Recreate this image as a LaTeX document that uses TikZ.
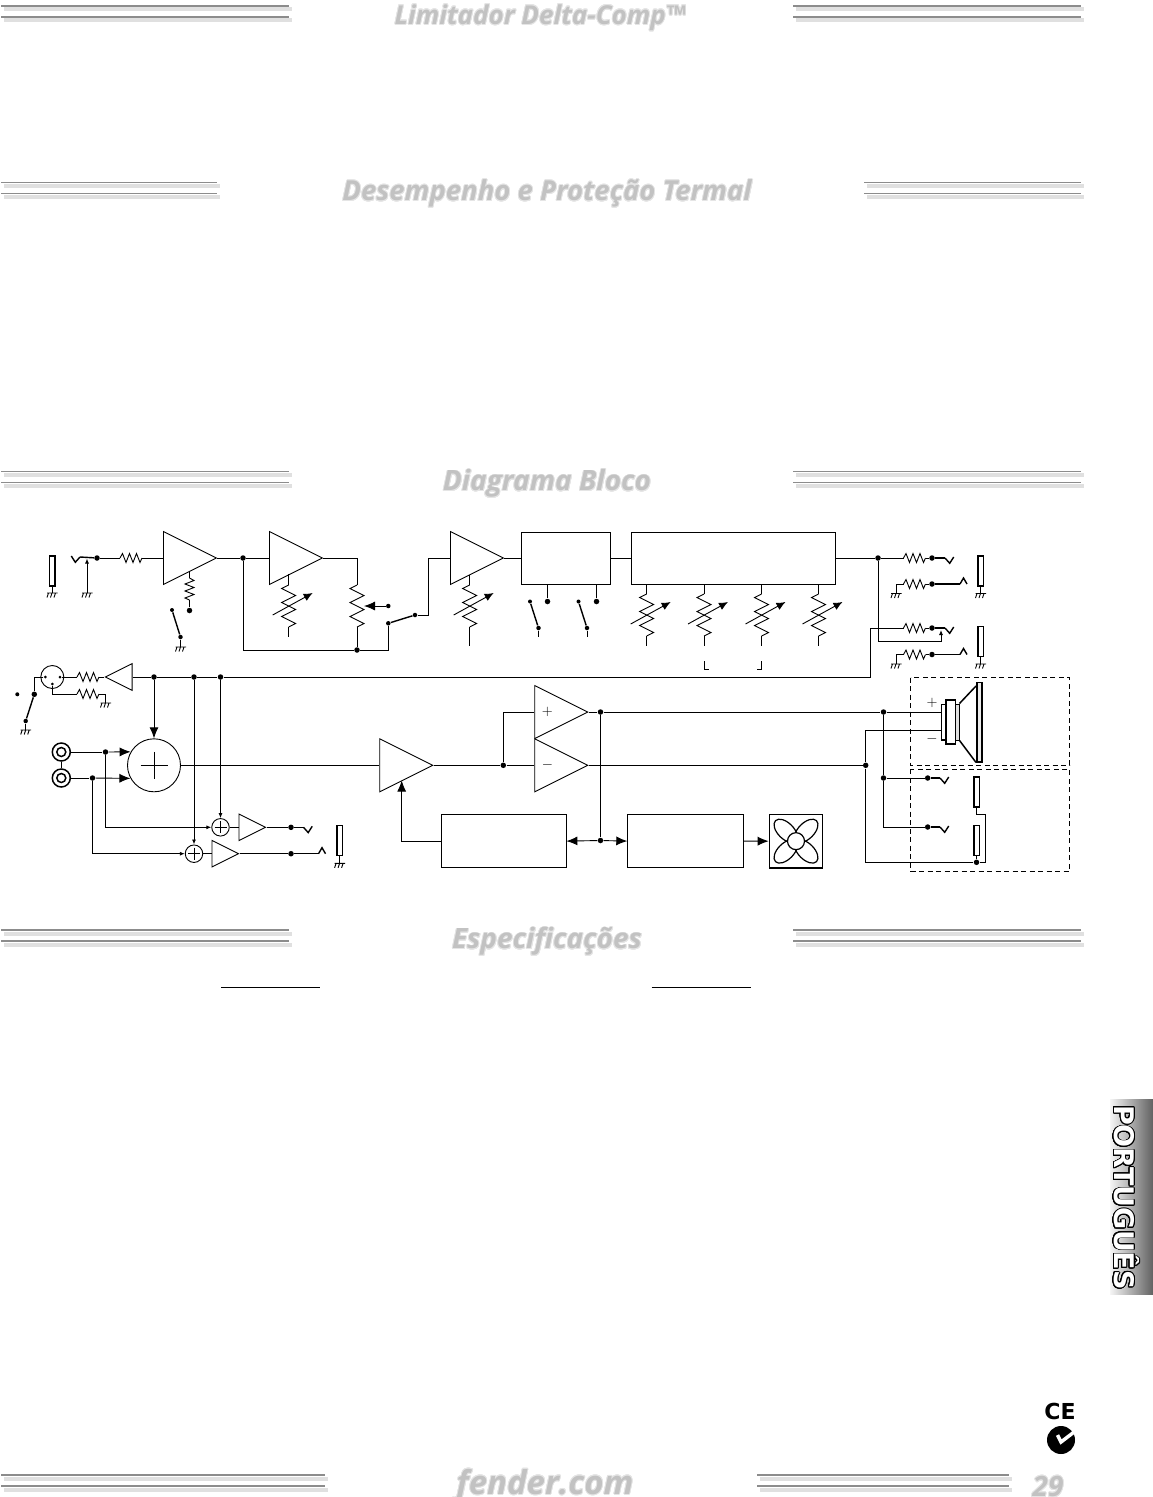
\documentclass[tikz,border=0pt]{standalone}
\usepackage{fontspec}
\setmainfont{Open Sans}
\newfontfamily\tabfont{DejaVu Sans}
\usepackage[copies]{contour}
\contournumber{24}
\usetikzlibrary{arrows.meta,positioning,shapes.geometric}

\tikzset{
    % building blocks of the schematic
    hres/.pic={
        \draw (0,0) coordinate (-l) -- (2.5,-4.5) -- (6,4.5) -- (9.5,-4.5) -- (13,4.5)
            -- (16.5,-4.5) -- (20,4.5) -- (22,0) coordinate (-r);
    },
    vres/.pic={
        \draw (0,0) coordinate (-t) -- (-7,3.5) -- (7,10.5) -- (-7,17.5) -- (7,24.5)
            -- (-7,31.5) -- (7,38.5) -- (0,42) coordinate (-b);
    },
    vpot/.pic={
        \draw (0,0) coordinate (-t) -- (-7,3.5) -- (7,10.5) -- (-7,17.5) -- (7,24.5)
            -- (-7,31.5) -- (7,38.5) -- (0,42) coordinate (-b);
        \draw[-{Latex[length=9pt,width=8pt]}] (-16,30) -- (24,8);
    },
    gnd/.pic={
        \coordinate (-t) at (0,0);
        \draw (-5,0) -- (5.5,0) (-3.5,0) -- (-5,4.5) (0,0) -- (-1.5,4.5) (3.5,0) -- (2,4.5);
    },
    tipv/.pic={\draw[contact] (0,0) coordinate (-a) -- (4.7,5.3) -- (8.7,-1);},
    tipn/.pic={\draw[contact] (0,0) coordinate (-a) -- (3.5,-6) -- (7,0);}
}

\begin{document}
\begin{tikzpicture}[
        x=1pt, y=-1pt, line width=0.9pt,
        ampl/.style={isosceles triangle, isosceles triangle apex angle=53.13, draw, inner sep=0pt, minimum height=53pt},
        amps/.style={isosceles triangle, isosceles triangle apex angle=53.13, draw, inner sep=0pt, minimum height=26.6pt},
        block/.style={rectangle, draw, inner sep=0pt, anchor=north west},
        dotnode/.style={circle, fill=black, inner sep=0pt, minimum size=5.5pt},
        pinnode/.style={circle, fill=black, inner sep=0pt, minimum size=3pt},
        barnode/.style={rectangle, draw, line width=1.5pt, fill=white, inner sep=0pt, minimum width=5.5pt, minimum height=30pt},
        sumnode/.style 2 args={circle, draw, inner sep=0pt, minimum size=#1, path picture={
            \draw (path picture bounding box.center) ++(-#2,0) -- ++({2*#2},0)
                (path picture bounding box.center) ++(0,-#2) -- ++(0,{2*#2});}},
        rcaouter/.style={circle, draw, line width=1.5pt, inner sep=0pt, minimum size=18pt},
        rcainner/.style={circle, draw, line width=1.5pt, inner sep=0pt, minimum size=9pt},
        signtext/.style={font=\fontsize{15}{15}\selectfont, inner sep=0pt},
        contact/.style={line width=1.4pt},
        bigarrow/.style={-{Latex[length=11pt,width=9pt]}},
        tinyarrow/.style={-{Latex[length=5pt,width=4pt]}},
        framebox/.style={dashed, dash pattern=on 5pt off 3.5pt, line width=0.8pt},
        headtext/.style={text=black!24, font=\fontsize{#1}{#1}\selectfont\bfseries\itshape, inner sep=0pt},
        rulemain/.style={line width=1.8pt, black!45},
        ruleshade/.style={line width=4pt, black!12}
    ]
    \useasboundingbox (0,0) rectangle (1153,1497);

    % Page rules
    \foreach \xa/\xb/\ya in {1/289/5.7, 793/1081/5.7, 1/217/182.5, 864/1081/182.5, 1/289/471.5, 793/1081/471.5,
            1/289/930, 793/1081/930, 1/325/1475, 757/1009/1475} {
        \draw[ruleshade] (\xa+3,\ya+3.5) -- (\xb+3,\ya+3.5);
        \draw[ruleshade] (\xa+3,\ya+14.5) -- (\xb+3,\ya+14.5);
        \draw[rulemain] (\xa,\ya) -- (\xb,\ya);
        \draw[rulemain] (\xa,\ya+11) -- (\xb,\ya+11);
    }

    % Page titles
    \contourlength{0.8pt}
    \node[headtext=26] (titlelimit) at (540,18) {\contour{black!10}{Limitador Delta-Comp™}};
    \node[headtext=27.5] (titleheat) at (547,194) {\contour{black!10}{Desempenho e Proteção Termal}};
    \node[headtext=28] (titleblock) at (547,484) {\contour{black!10}{Diagrama Bloco}};
    \node[headtext=28] (titlespec) at (547,942) {\contour{black!10}{Especificações}};
    \node[headtext=33] (titleweb) at (545,1486) {\contour{black!10}{fender.com}};
    \node[headtext=28] (pagenum) at (1048,1487) {\contour{black!10}{29}};
    \draw (221,987) -- (320,987) (651.5,987) -- (750.5,987);

    % Language tab and marks
    \shade[left color=black!4, right color=black!62] (1110,1099) rectangle (1153,1294);
    \contourlength{0.9pt}
    \node[rotate=-90, text=white, inner sep=0pt, font=\tabfont\fontsize{27}{27}\selectfont\bfseries] (tablabel) at (1126,1197.5) {\contour{black}{PORTUGUÊS}};
    \node[inner sep=0pt, font=\tabfont\fontsize{22}{22}\selectfont\bfseries] (cemark) at (1060,1411) {CE};
    \fill (1061,1440) circle (14);
    \draw[white, line width=3.5pt] (1057.5,1435) -- (1061,1442) -- (1078,1429);

    % Input section
    \node[barnode] (barin) at (52,571) {};
    \pic (gndbarin) at (52,593) {gnd};
    \draw (barin) -- (gndbarin-t);
    \node[dotnode] (dotjack) at (97,558) {};
    \pic[xscale=-1] (tipin) at (80,557) {tipv};
    \draw[contact] (tipin-a) -- (dotjack);
    \pic (gndjack) at (87,593) {gnd};
    \coordinate (sensejack) at (87,558.5);
    \draw[tinyarrow] (gndjack-t) -- (sensejack);
    \pic (resin) at (120,558) {hres};
    \node[ampl, anchor=west] (ampinput) at (163,558) {};
    \draw (dotjack) -- (resin-l) (resin-r) -- (ampinput.west);
    \pic[rotate=-90] (respad) at (189.5,578) {hres};
    \coordinate (tailpad) at (189.5,571);
    \node[dotnode] (dotpad) at (189.5,610.5) {};
    \draw (tailpad) -- (respad-l) (respad-r) -- (dotpad);
    \node[pinnode, minimum size=4pt] (swpada) at (172,610) {};
    \node[dotnode, minimum size=4.5pt] (swpadb) at (180.5,637) {};
    \draw[contact] (swpada) -- (swpadb);
    \pic (gndpad) at (180.5,647) {gnd};
    \draw (swpadb) -- (gndpad-t);

    % Preamp and volume
    \node[dotnode] (dotpre) at (243,558) {};
    \node[ampl, anchor=west] (amppre) at (269,558) {};
    \draw (ampinput.apex) -- (dotpre) -- (amppre.west);
    \coordinate (tailgain) at (288.7,574);
    \pic (potgain) at (288.7,585) {vpot};
    \coordinate (endgain) at (288.7,637);
    \draw (tailgain) -- (potgain-t) (potgain-b) -- (endgain);
    \pic (potvol) at (357,585) {vres};
    \node[dotnode] (dotvol) at (357,650) {};
    \draw (amppre.apex) -| (potvol-t) (potvol-b) -- (dotvol);
    \node[dotnode, minimum size=4.5pt] (swvolb) at (388.3,623.3) {};
    \node[dotnode, minimum size=4.5pt] (swvolc) at (388.3,606) {};
    \node[dotnode, minimum size=4.5pt] (swvolo) at (415,615) {};
    \coordinate (wipervol) at (364,606);
    \draw[bigarrow] (swvolc) -- (wipervol);
    \draw (dotpre) |- (dotvol) -| (swvolb);
    \draw[contact] (swvolb) -- (swvolo);

    % Tone stages and effects
    \node[ampl, anchor=west] (ampfx) at (450,558) {};
    \draw (swvolo) -- (428,615) |- (ampfx.west);
    \coordinate (tailfx) at (469.7,575);
    \pic (potfx) at (469.7,585) {vpot};
    \coordinate (endfx) at (469.7,646);
    \draw (tailfx) -- (potfx-t) (potfx-b) -- (endfx);
    \node[block, minimum width=88.5pt, minimum height=52.5pt] (boxfx) at (521,531.5) {};
    \node[block, minimum width=203.5pt, minimum height=52.5pt] (boxeq) at (631,531.5) {};
    \draw (ampfx.apex) -- (boxfx.west |- ampfx.apex) (boxfx.east |- ampfx.apex) -- (boxeq.west |- ampfx.apex);
    \foreach \n/\xa/\xb in {a/530/547.5, b/578.5/596.5} {
        \node[dotnode] (stub\n) at (\xb,601.5) {};
        \draw (boxfx.south -| stub\n) -- (stub\n);
        \node[pinnode, minimum size=4pt] (sw\n) at (\xa,601.5) {};
        \node[dotnode, minimum size=4.5pt] (sw\n low) at (\xa+8.5,628) {};
        \coordinate (sw\n end) at (\xa+8.5,637);
        \draw[contact] (sw\n) -- (sw\n low);
        \draw (sw\n low) -- (sw\n end);
    }
    \foreach \n/\x in {a/646.7, b/704, c/761.5, d/818.5} {
        \pic (poteq\n) at (\x,594) {vpot};
        \coordinate (endeq\n) at (\x,645.5);
        \draw (poteq\n-t |- boxeq.south) -- (poteq\n-t) (poteq\n-b) -- (endeq\n);
    }
    \draw[line width=1pt] (704.5,661) -- (704.5,669) -- (708.5,669);
    \draw[line width=1pt] (761.5,661) -- (761.5,669) -- (757,669);

    % Line out and send jacks
    \node[dotnode] (dotout) at (878,558) {};
    \draw (boxeq.east |- dotout) -- (dotout);
    \pic (resouta) at (903.5,558) {hres};
    \node[dotnode] (dotouta) at (932,558) {};
    \draw (dotout) -- (resouta-l) (resouta-r) -- (dotouta);
    \pic (tipouta) at (945,558) {tipv};
    \draw[contact] (dotouta) -- (tipouta-a);
    \pic (resoutb) at (903.5,584) {hres};
    \node[dotnode] (dotoutb) at (932,584) {};
    \pic (gndoutb) at (896,593.5) {gnd};
    \draw (gndoutb-t) |- (resoutb-l) (resoutb-r) -- (dotoutb);
    \pic (tipoutb) at (960,584) {tipn};
    \draw[contact] (dotoutb) -- (tipoutb-a);
    \node[barnode] (barout) at (980.5,571) {};
    \pic (gndbarout) at (980.5,593.5) {gnd};
    \draw (barout) -- (gndbarout-t);

    \pic (resreta) at (903.5,628) {hres};
    \node[dotnode] (dotreta) at (932,628) {};
    \draw (resreta-r) -- (dotreta);
    \pic (tipreta) at (945,628) {tipv};
    \draw[contact] (dotreta) -- (tipreta-a);
    \coordinate (senseret) at (941,630);
    \draw[tinyarrow] (dotout) |- (941,641) -- (senseret);
    \pic (resretb) at (903.5,654.5) {hres};
    \node[dotnode] (dotretb) at (932,654.5) {};
    \pic (gndretb) at (896,664) {gnd};
    \draw (gndretb-t) |- (resretb-l) (resretb-r) -- (dotretb);
    \pic (tipretb) at (960,654.5) {tipn};
    \draw[contact] (dotretb) -- (tipretb-a);
    \node[barnode] (barret) at (980.5,641.5) {};
    \pic (gndbarret) at (980.5,664) {gnd};
    \draw (barret) -- (gndbarret-t);

    % Balanced input
    \node[circle, draw, inner sep=0pt, minimum size=23pt] (xlr) at (52.3,677) {};
    \node[pinnode] (pinl) at (45.3,677) {};
    \node[pinnode] (pinr) at (60,677) {};
    \node[pinnode] (pinb) at (52.3,684) {};
    \node[dotnode] (swxlra) at (34.3,694.3) {};
    \node[pinnode, minimum size=4pt] (swxlro) at (17.3,694.3) {};
    \node[dotnode, minimum size=4.5pt] (swxlrb) at (25.7,721) {};
    \draw (pinl) -| (swxlra);
    \draw[contact] (swxlra) -- (swxlrb);
    \pic (gndxlr) at (25.7,730) {gnd};
    \draw (swxlrb) -- (gndxlr-t);
    \pic (resxlra) at (77,677) {hres};
    \pic (resxlrb) at (77,694) {hres};
    \pic (gndxlrb) at (105.5,703) {gnd};
    \draw (pinb) |- (resxlrb-l) (resxlrb-r) -| (gndxlrb-t);
    \node[amps, shape border rotate=180, anchor=east] (ampxlr) at (132.5,677) {};
    \draw (pinr) -- (resxlra-l) (resxlra-r) -- (ampxlr.apex);

    % Mixing bus
    \node[dotnode] (busa) at (154,677) {};
    \node[dotnode] (busb) at (194,677) {};
    \node[dotnode] (busc) at (220.5,677) {};
    \coordinate (buscorner) at (870.5,677);
    \draw (ampxlr.east) -- (busa) -- (busb) -- (busc) -- (buscorner) |- (resreta-l);
    \node[sumnode={53}{13.5}] (summain) at (154,765.3) {};
    \draw[bigarrow] (busa) -- (summain.north);
    \node[sumnode={17.5}{6}] (sumsenda) at (220.5,827.3) {};
    \node[sumnode={17.5}{6}] (sumsendb) at (194,853.7) {};
    \draw[tinyarrow] (busb) -- (sumsendb.north);
    \draw[tinyarrow] (busc) -- (sumsenda.north);

    % RCA inputs
    \node[rcaouter] (rcaa) at (61.3,752) {};
    \node[rcainner] (rcaahole) at (rcaa) {};
    \node[rcaouter] (rcab) at (61.3,778) {};
    \node[rcainner] (rcabhole) at (rcab) {};
    \draw (rcaa) -- (rcab);
    \node[dotnode] (dotrcaa) at (105.5,752) {};
    \node[dotnode] (dotrcab) at (92.5,778) {};
    \draw (rcaa) -- (dotrcaa);
    \draw (rcab) -- (dotrcab);
    \draw[bigarrow] (dotrcaa) -- (summain.150.6);
    \draw[bigarrow] (dotrcab) -- (summain.209.4);
    \draw[tinyarrow] (dotrcaa) |- (sumsenda.west);
    \draw[tinyarrow] (dotrcab) |- (sumsendb.west);

    % Tape out
    \node[amps, anchor=west] (ampsenda) at (238.5,827.3) {};
    \node[amps, anchor=west] (ampsendb) at (211.5,853.7) {};
    \draw (sumsenda.east) -- (ampsenda.west);
    \draw (sumsendb.east) -- (ampsendb.west);
    \node[dotnode] (dotsenda) at (291,827.3) {};
    \node[dotnode] (dotsendb) at (291,853.7) {};
    \draw (ampsenda.apex) -- (dotsenda);
    \draw (ampsendb.apex) -- (dotsendb);
    \pic (tipsenda) at (303.5,827.3) {tipv};
    \pic (tipsendb) at (318.5,853.7) {tipn};
    \draw[contact] (dotsenda) -- (tipsenda-a);
    \draw[contact] (dotsendb) -- (tipsendb-a);
    \node[barnode] (barsend) at (339.6,840.5) {};
    \pic (gndsend) at (339.6,863.3) {gnd};
    \draw (barsend) -- (gndsend-t);

    % Power stage
    \node[ampl, anchor=west] (amplimit) at (379.3,765.3) {};
    \node[ampl, anchor=west] (amppos) at (534.3,712) {};
    \node[ampl, anchor=west] (ampneg) at (534.3,765.3) {};
    \node[signtext, right=7pt of amppos.west] (signpos) {$+$};
    \node[signtext, right=7pt of ampneg.west] (signneg) {$-$};
    \node[dotnode] (dotsplit) at (503.3,765.3) {};
    \draw (summain.east) -- (amplimit.west);
    \draw (amplimit.apex) -- (dotsplit) -- (ampneg.west);
    \draw (dotsplit) |- (amppos.west);
    \node[dotnode] (dotpos) at (600.5,712) {};
    \node[dotnode] (dotsense) at (600.5,840.5) {};
    \node[dotnode] (dotspkp) at (883.5,712) {};
    \node[dotnode] (dotspkn) at (865.7,765.3) {};
    \draw (amppos.apex) -- (dotpos) -- (dotspkp);
    \draw (ampneg.apex) -- (dotspkn);
    \draw (dotpos) -- (dotsense);

    % Limiter and fan control
    \node[block, minimum width=124.2pt, minimum height=52.7pt] (boxlimit) at (441.3,814.3) {};
    \node[block, minimum width=115.4pt, minimum height=52.7pt] (boxfan) at (627.3,814.3) {};
    \node[block, line width=1.6pt, minimum width=53pt, minimum height=53.3pt] (fan) at (768.7,813.7) {};
    \draw[bigarrow] (dotsense) -- (boxlimit.east);
    \draw[bigarrow] (dotsense) -- (boxfan.west);
    \draw[bigarrow] (boxfan.east) -- (fan.west);
    \coordinate (senselimit) at (401.7,780.5);
    \draw[bigarrow] (boxlimit.west) -| (senselimit);
    \foreach \a in {45,135,225,315}
        \draw[line width=1.2pt, rotate around={\a:(fan.center)}] ([xshift=14.5pt]fan.center) ellipse (14.5 and 8);
    \node[circle, draw, fill=white, line width=1.2pt, inner sep=0pt, minimum size=17pt] (fanhub) at (fan.center) {};

    % Speaker
    \draw[framebox] (910.5,677.5) rectangle (1069.5,765);
    \draw[framebox] (910.5,769) rectangle (1069.5,871);
    \node[block, line width=1.5pt, fill=white, minimum width=4.5pt, minimum height=35.5pt] (spkback) at (940.5,703.5) {};
    \node[block, line width=1.5pt, fill=white, minimum width=9.5pt, minimum height=44pt] (spkmagnet) at (945,699) {};
    \node[block, line width=1pt, fill=black!12, minimum width=4pt, minimum height=36pt] (spkneck) at (954.5,703.5) {};
    \node[block, line width=1.5pt, fill=black!8, minimum width=5pt, minimum height=79.5pt] (spkfront) at (976,681.5) {};
    \draw[line width=1.5pt] (spkneck.north east) -- (976,686);
    \draw[line width=1.5pt] (spkneck.south east) -- (spkfront.south west);
    \node[signtext] (signspkp) at (932,703) {$+$};
    \node[signtext] (signspkn) at (932,739) {$-$};
    \coordinate (feedp) at (spkback.west |- dotspkp);
    \coordinate (feedn) at (940.5,730.5);
    \draw (dotspkp) -- (feedp);

    % Speaker out jacks
    \node[dotnode] (dotspa) at (883.5,778) {};
    \node[dotnode] (dotspb) at (927.7,778) {};
    \coordinate (cornersp) at (883.5,827);
    \node[dotnode] (dotspc) at (927.7,827) {};
    \draw (dotspkp) -- (dotspa) -- (cornersp) -- (dotspc);
    \draw (dotspa) -- (dotspb);
    \pic (tipspa) at (940,778) {tipv};
    \pic (tipspb) at (940,827) {tipv};
    \draw[contact] (dotspb) -- (tipspa-a);
    \draw[contact] (dotspc) -- (tipspb-a);
    \node[barnode] (barspa) at (976.5,791.8) {};
    \node[barnode] (barspb) at (976.5,840.5) {};
    \node[dotnode] (dotspret) at (976.5,862.3) {};
    \draw (barspb) -- (dotspret);
    \draw (barspa.south) -- (976.5,814.5) -- (985.7,814.5) |- (dotspret);
    \draw (feedn) -| (dotspkn) |- (dotspret);
\end{tikzpicture}
\end{document}
